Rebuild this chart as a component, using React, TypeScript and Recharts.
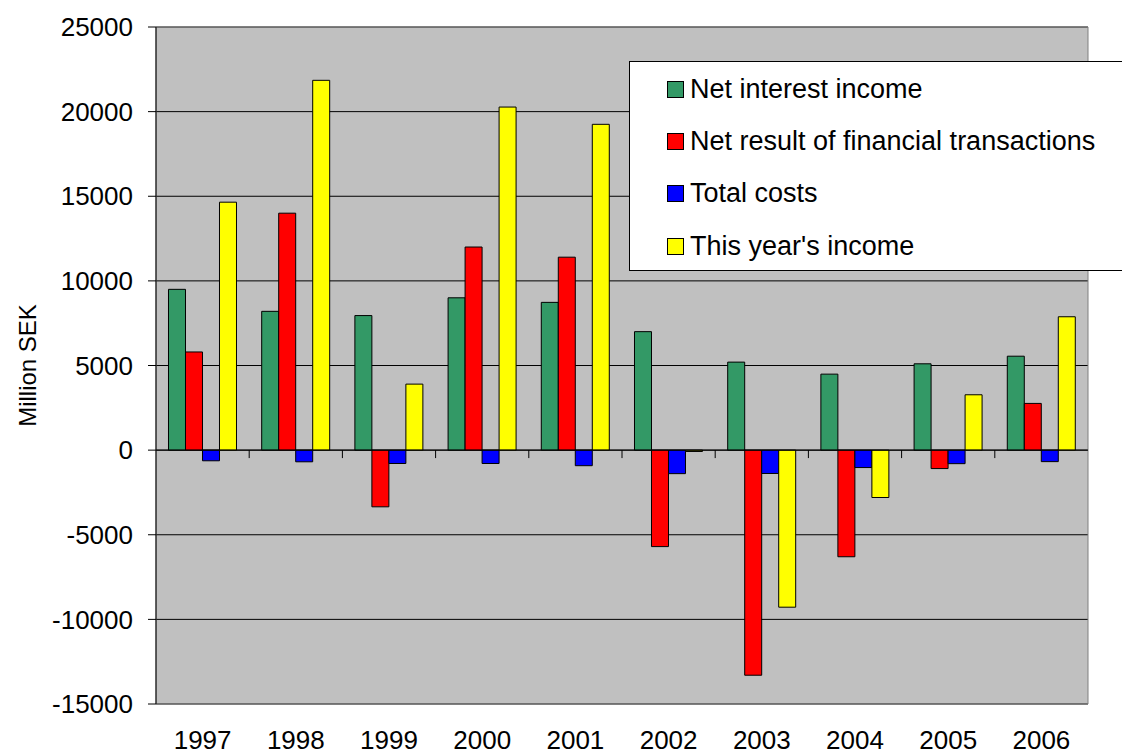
import React from 'react';
import { BarChart, Bar, XAxis, YAxis, CartesianGrid, ReferenceLine, ReferenceArea } from 'recharts';

const years = ['1997', '1998', '1999', '2000', '2001', '2002', '2003', '2004', '2005', '2006'];
const netInterestIncome = [9500, 8200, 7950, 9000, 8730, 7000, 5200, 4490, 5100, 5550];
const netFinancial = [5800, 14000, -3350, 12000, 11400, -5700, -13300, -6300, -1090, 2760];
const totalCosts = [-630, -690, -790, -790, -920, -1390, -1380, -1030, -800, -680];
const thisYearsIncome = [14650, 21850, 3900, 20270, 19250, -80, -9280, -2800, 3270, 7880];
const yTicks = [-15000, -10000, -5000, 0, 5000, 10000, 15000, 20000, 25000];

const seriesNames = ['Net interest income', 'Net result of financial transactions', 'Total costs', "This year's income"];
const seriesColors = ['#339966', '#FF0000', '#0000FF', '#FFFF00'];

const data = years.map((y, i) => ({
  year: y,
  nii: netInterestIncome[i],
  nrft: netFinancial[i],
  tc: totalCosts[i],
  tyi: thisYearsIncome[i],
}));

const keys = ['nii', 'nrft', 'tc', 'tyi'];
const FONT = '"Liberation Sans", Arial, sans-serif';

function LegendBox() {
  return (
    <div
      style={{
        position: 'absolute', left: 629, top: 61, width: 520, height: 210,
        background: '#fff', border: '1px solid #000', boxSizing: 'border-box',
        fontFamily: FONT, fontSize: 27, color: '#000', paddingTop: 1,
      }}
    >
      {seriesNames.map((n, i) => (
        <div key={n} style={{ display: 'flex', alignItems: 'center', height: 52.3, marginLeft: 37 }}>
          <span style={{ display: 'inline-block', width: 15, height: 15, background: seriesColors[i], border: '1px solid #000', marginRight: 6 }} />
          <span>{n}</span>
        </div>
      ))}
    </div>
  );
}

export default function App() {
  return (
    <div style={{ position: 'absolute', left: 0, top: 0, width: 1122, height: 754, background: '#fff', overflow: 'hidden' }}>
      <BarChart
        width={1122}
        height={754}
        data={data}
        margin={{ top: 27, right: 34, bottom: 0, left: 0 }}
        barGap={0}
        barCategoryGap="13.4%"
      >
        <CartesianGrid horizontal vertical={false} stroke="#000" fill="#C0C0C0" fillOpacity={1} />
        <ReferenceArea y1={-15000} y2={25000} fill="none" stroke="#808080" strokeWidth={1} ifOverflow="visible" />
        <XAxis
          dataKey="year"
          height={50}
          axisLine={false}
          tickLine={false}
          tickMargin={21}
          tick={{ fontFamily: FONT, fontSize: 26, fill: '#000' }}
        />
        <YAxis
          width={156}
          domain={[-15000, 25000]}
          ticks={yTicks}
          interval={0}
          axisLine={{ stroke: '#000' }}
          tickLine={{ stroke: '#000' }}
          tickSize={8}
          tickMargin={15}
          tick={{ fontFamily: FONT, fontSize: 26, fill: '#000' }}
          label={{ value: 'Million SEK', angle: -90, position: 'insideLeft', offset: 27, style: { fontFamily: FONT, fontSize: 24, fill: '#000', textAnchor: 'middle' } }}
        />
        <ReferenceLine y={0} stroke="#000" strokeWidth={1} />
        {years.slice(1).map((yr) => (
          <ReferenceLine
            key={'t' + yr}
            segment={[{ x: yr, y: 0 }, { x: yr, y: -470 }]}
            position="start"
            stroke="#000"
            strokeWidth={1}
          />
        ))}
        {keys.map((k, i) => (
          <Bar key={k} dataKey={k} name={seriesNames[i]} fill={seriesColors[i]} stroke="#000" strokeWidth={1} isAnimationActive={false} />
        ))}
      </BarChart>
      <LegendBox />
    </div>
  );
}
